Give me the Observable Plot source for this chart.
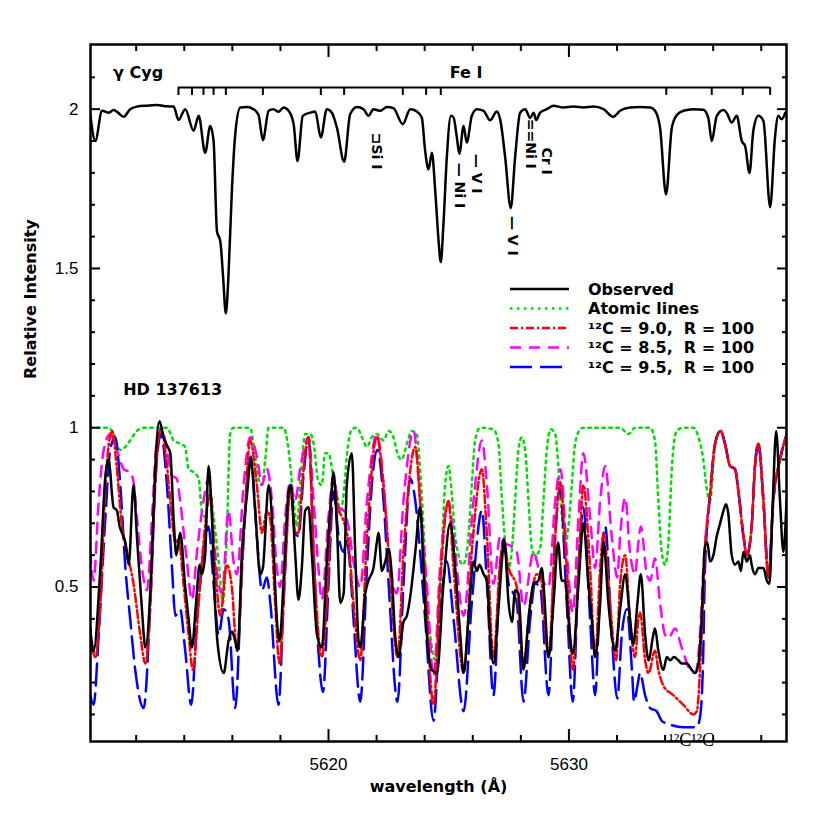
<!DOCTYPE html>
<html><head><meta charset="utf-8">
<script src="https://cdn.jsdelivr.net/npm/d3@7"></script>
<script src="https://cdn.jsdelivr.net/npm/@observablehq/plot@0.6"></script>
<style>body{margin:0;background:#fff} svg text{white-space:pre}</style>
</head><body><div id="chart"></div>
<script>
// ---- data: [wavelength (Å), relative intensity] ----
const gammaCyg = [[5610.09,1.984],[5610.30,1.900],[5610.58,1.995],[5610.85,1.989],[5611.06,1.997],[5611.23,1.990],[5611.48,1.976],[5611.75,2.000],[5612.03,2.008],[5612.45,2.011],[5612.86,2.013],[5613.28,2.009],[5613.56,2.008],[5613.76,1.966],[5614.04,2.000],[5614.39,1.932],[5614.60,1.979],[5614.87,1.863],[5615.08,1.947],[5615.22,1.900],[5615.36,1.617],[5615.50,1.585],[5615.61,1.480],[5615.73,1.359],[5615.84,1.480],[5615.98,1.743],[5616.12,1.921],[5616.33,2.005],[5616.61,2.007],[5616.88,2.000],[5617.09,1.982],[5617.27,1.903],[5617.51,1.995],[5617.71,2.000],[5617.92,1.992],[5618.13,2.005],[5618.34,1.995],[5618.55,1.953],[5618.71,1.837],[5618.93,1.979],[5619.24,1.989],[5619.45,1.993],[5619.68,1.911],[5619.93,2.000],[5620.14,1.989],[5620.35,1.942],[5620.65,1.835],[5620.90,1.984],[5621.18,2.007],[5621.46,2.000],[5621.66,1.979],[5621.87,2.000],[5622.15,1.995],[5622.43,2.007],[5622.70,2.003],[5623.09,1.953],[5623.40,2.000],[5623.67,1.993],[5623.88,1.974],[5624.02,1.869],[5624.16,1.811],[5624.30,1.863],[5624.44,1.743],[5624.58,1.585],[5624.67,1.520],[5624.78,1.638],[5624.92,1.848],[5625.09,1.979],[5625.20,1.974],[5625.34,1.911],[5625.44,1.860],[5625.62,1.947],[5625.75,1.895],[5625.96,1.979],[5626.17,2.000],[5626.45,1.995],[5626.72,1.965],[5627.00,1.993],[5627.14,1.968],[5627.35,1.848],[5627.58,1.690],[5627.76,1.848],[5627.97,1.989],[5628.18,2.000],[5628.39,1.972],[5628.53,1.989],[5628.64,1.966],[5628.80,1.989],[5629.08,2.000],[5629.36,2.011],[5629.77,2.005],[5630.19,2.008],[5630.60,2.005],[5631.02,2.008],[5631.44,2.000],[5631.85,1.976],[5632.13,1.995],[5632.54,2.005],[5632.96,2.007],[5633.38,2.005],[5633.58,1.995],[5633.79,1.942],[5634.04,1.732],[5634.28,1.942],[5634.49,1.982],[5634.76,1.995],[5635.18,2.000],[5635.59,1.998],[5635.80,1.972],[5635.94,1.900],[5636.15,1.979],[5636.43,1.997],[5636.56,1.989],[5636.77,1.958],[5636.98,1.979],[5637.19,1.900],[5637.33,1.884],[5637.51,1.800],[5637.67,1.932],[5637.88,1.979],[5638.09,1.963],[5638.37,1.692],[5638.57,1.911],[5638.71,1.979],[5638.85,1.968],[5639.00,1.989]];

const observed = [[5610.09,0.37],[5610.23,0.30],[5610.51,0.56],[5610.72,0.85],[5610.85,0.90],[5611.06,0.75],[5611.20,0.74],[5611.31,0.69],[5611.41,0.67],[5611.55,0.64],[5611.69,0.57],[5611.89,0.82],[5612.03,0.66],[5612.24,0.43],[5612.38,0.31],[5612.66,0.61],[5612.79,0.87],[5612.97,1.02],[5613.14,0.97],[5613.31,0.94],[5613.42,0.92],[5613.56,0.71],[5613.67,0.60],[5613.83,0.67],[5614.04,0.50],[5614.18,0.40],[5614.32,0.31],[5614.50,0.46],[5614.64,0.57],[5614.73,0.54],[5614.87,0.60],[5615.01,0.88],[5615.15,0.72],[5615.29,0.43],[5615.39,0.32],[5615.64,0.23],[5615.84,0.33],[5615.98,0.36],[5616.12,0.33],[5616.22,0.30],[5616.40,0.61],[5616.61,0.79],[5616.77,0.90],[5616.95,0.74],[5617.16,0.54],[5617.27,0.56],[5617.51,0.82],[5617.69,0.66],[5617.85,0.40],[5617.96,0.33],[5618.16,0.56],[5618.34,0.80],[5618.43,0.82],[5618.61,0.61],[5618.75,0.46],[5618.89,0.56],[5619.03,0.74],[5619.17,0.75],[5619.31,0.60],[5619.52,0.35],[5619.72,0.31],[5619.93,0.58],[5620.10,0.77],[5620.21,0.86],[5620.35,0.69],[5620.49,0.45],[5620.63,0.48],[5620.76,0.82],[5620.97,0.92],[5621.11,0.61],[5621.25,0.33],[5621.32,0.31],[5621.53,0.48],[5621.66,0.52],[5621.87,0.56],[5622.01,0.64],[5622.08,0.67],[5622.22,0.55],[5622.36,0.58],[5622.50,0.62],[5622.63,0.54],[5622.77,0.35],[5622.91,0.28],[5623.12,0.39],[5623.26,0.41],[5623.40,0.47],[5623.61,0.61],[5623.81,0.75],[5623.95,0.56],[5624.09,0.35],[5624.30,0.24],[5624.51,0.23],[5624.78,0.51],[5625.06,0.70],[5625.27,0.56],[5625.48,0.35],[5625.62,0.23],[5625.82,0.40],[5626.03,0.58],[5626.17,0.55],[5626.28,0.57],[5626.45,0.54],[5626.59,0.52],[5626.72,0.35],[5626.86,0.26],[5627.07,0.43],[5627.21,0.58],[5627.31,0.65],[5627.49,0.45],[5627.63,0.39],[5627.76,0.49],[5627.90,0.48],[5628.11,0.24],[5628.32,0.40],[5628.53,0.51],[5628.73,0.52],[5628.87,0.56],[5628.97,0.48],[5629.15,0.28],[5629.36,0.45],[5629.55,0.64],[5629.70,0.52],[5629.84,0.52],[5629.98,0.40],[5630.16,0.29],[5630.40,0.51],[5630.60,0.70],[5630.81,0.51],[5630.95,0.40],[5631.09,0.28],[5631.30,0.45],[5631.44,0.64],[5631.64,0.45],[5631.92,0.30],[5632.13,0.43],[5632.34,0.54],[5632.54,0.40],[5632.68,0.32],[5632.85,0.45],[5632.99,0.54],[5633.17,0.35],[5633.31,0.27],[5633.51,0.35],[5633.58,0.37],[5633.72,0.30],[5633.93,0.24],[5634.07,0.28],[5634.21,0.27],[5634.37,0.28],[5634.55,0.27],[5634.69,0.26],[5634.90,0.26],[5635.11,0.24],[5635.25,0.23],[5635.39,0.26],[5635.52,0.40],[5635.66,0.63],[5635.76,0.64],[5635.87,0.58],[5636.01,0.60],[5636.15,0.66],[5636.29,0.70],[5636.43,0.74],[5636.54,0.76],[5636.63,0.73],[5636.77,0.60],[5636.91,0.57],[5637.05,0.58],[5637.15,0.55],[5637.26,0.61],[5637.40,0.58],[5637.53,0.60],[5637.60,0.57],[5637.74,0.54],[5637.88,0.56],[5638.09,0.56],[5638.23,0.52],[5638.34,0.51],[5638.48,0.77],[5638.62,0.99],[5638.78,0.77],[5638.92,0.61],[5639.05,0.77]];

// region where all synthetic spectra coincide (no C2 lines)
const modelTail = [[5636.08,0.95],[5636.31,0.99],[5636.49,0.95],[5636.70,0.88],[5636.91,0.87],[5637.05,0.80],[5637.26,0.66],[5637.40,0.60],[5637.60,0.69],[5637.74,0.88],[5637.88,0.95],[5638.09,0.77],[5638.30,0.53],[5638.50,0.77],[5638.78,0.90],[5639.06,0.98]];

const atomic = [[5610.09,1.0],[5610.85,1.0],[5611.06,0.98],[5611.34,0.93],[5611.55,0.94],[5611.75,0.96],[5612.03,0.99],[5612.31,1.0],[5613.28,1.0],[5613.56,0.96],[5613.83,0.95],[5614.04,0.94],[5614.18,0.87],[5614.39,0.86],[5614.60,0.84],[5614.73,0.74],[5614.87,0.72],[5615.01,0.77],[5615.08,0.80],[5615.22,0.72],[5615.43,0.58],[5615.61,0.45],[5615.77,0.66],[5615.91,0.98],[5616.05,1.0],[5616.74,1.0],[5616.88,0.95],[5617.09,0.84],[5617.23,0.82],[5617.37,0.90],[5617.51,1.0],[5618.13,1.0],[5618.34,0.93],[5618.55,0.77],[5618.68,0.69],[5618.82,0.82],[5619.03,0.98],[5619.24,0.98],[5619.38,0.95],[5619.58,0.83],[5619.72,0.82],[5619.86,0.92],[5620.00,0.92],[5620.21,0.84],[5620.35,0.79],[5620.49,0.74],[5620.63,0.79],[5620.76,0.91],[5620.97,0.995],[5621.18,1.0],[5621.39,0.97],[5621.60,0.94],[5621.80,0.97],[5622.01,0.98],[5622.29,0.96],[5622.50,0.99],[5622.70,0.97],[5622.91,0.91],[5623.05,0.90],[5623.26,0.95],[5623.47,0.99],[5623.67,0.98],[5623.81,0.87],[5623.95,0.69],[5624.09,0.45],[5624.23,0.35],[5624.44,0.27],[5624.58,0.35],[5624.71,0.61],[5624.85,0.82],[5624.99,0.88],[5625.13,0.79],[5625.27,0.66],[5625.41,0.60],[5625.55,0.57],[5625.68,0.58],[5625.82,0.66],[5625.96,0.82],[5626.10,0.96],[5626.31,1.0],[5626.86,0.995],[5627.07,0.95],[5627.21,0.78],[5627.35,0.64],[5627.49,0.56],[5627.62,0.61],[5627.76,0.77],[5627.90,0.93],[5628.04,0.97],[5628.18,0.93],[5628.32,0.77],[5628.46,0.62],[5628.60,0.60],[5628.80,0.62],[5628.94,0.77],[5629.08,0.93],[5629.25,0.995],[5629.43,0.98],[5629.57,0.87],[5629.71,0.72],[5629.84,0.63],[5629.98,0.69],[5630.12,0.82],[5630.26,0.95],[5630.47,0.995],[5630.60,1.0],[5632.13,1.0],[5632.48,0.98],[5632.75,1.0],[5633.38,1.0],[5633.58,0.96],[5633.72,0.77],[5633.86,0.61],[5634.00,0.57],[5634.14,0.64],[5634.28,0.87],[5634.48,0.99],[5634.76,1.0],[5635.18,1.0],[5635.39,0.97],[5635.59,0.90],[5635.73,0.81],[5635.87,0.77]];

const c90 = [[5610.09,0.35],[5610.30,0.28],[5610.51,0.45],[5610.72,0.82],[5611.00,0.99],[5611.20,0.87],[5611.41,0.69],[5611.62,0.61],[5611.89,0.51],[5612.17,0.35],[5612.38,0.26],[5612.59,0.45],[5612.79,0.82],[5613.03,0.995],[5613.21,0.93],[5613.42,0.77],[5613.63,0.64],[5613.76,0.65],[5613.97,0.51],[5614.18,0.35],[5614.36,0.24],[5614.60,0.45],[5614.80,0.64],[5615.08,0.79],[5615.29,0.56],[5615.50,0.41],[5615.77,0.57],[5615.98,0.50],[5616.19,0.30],[5616.47,0.66],[5616.74,0.96],[5617.02,0.82],[5617.23,0.67],[5617.44,0.74],[5617.58,0.71],[5617.78,0.45],[5617.96,0.26],[5618.20,0.56],[5618.41,0.81],[5618.61,0.67],[5618.75,0.67],[5618.89,0.81],[5619.17,0.97],[5619.38,0.61],[5619.72,0.28],[5620.00,0.56],[5620.18,0.84],[5620.42,0.74],[5620.56,0.72],[5620.83,0.64],[5621.04,0.45],[5621.32,0.27],[5621.60,0.66],[5622.01,0.97],[5622.29,0.82],[5622.50,0.61],[5622.87,0.28],[5623.12,0.61],[5623.61,0.94],[5623.81,0.77],[5624.02,0.51],[5624.37,0.13],[5624.64,0.51],[5624.99,0.77],[5625.20,0.56],[5625.62,0.23],[5625.96,0.61],[5626.38,0.87],[5626.59,0.66],[5626.86,0.28],[5627.14,0.58],[5627.28,0.64],[5627.49,0.56],[5627.83,0.50],[5628.11,0.26],[5628.39,0.45],[5628.66,0.54],[5628.80,0.54],[5629.15,0.28],[5629.43,0.66],[5629.63,0.83],[5629.91,0.56],[5630.16,0.24],[5630.40,0.56],[5630.60,0.82],[5630.88,0.56],[5631.09,0.28],[5631.30,0.56],[5631.44,0.67],[5631.71,0.45],[5631.96,0.27],[5632.13,0.51],[5632.34,0.60],[5632.54,0.40],[5632.75,0.28],[5632.89,0.40],[5632.96,0.42],[5633.17,0.27],[5633.31,0.23],[5633.58,0.30],[5633.72,0.24],[5633.93,0.19],[5634.35,0.16],[5634.76,0.13],[5635.18,0.10],[5635.32,0.11],[5635.52,0.35],[5635.66,0.61],[5635.87,0.79]];

const c85 = [[5610.09,0.61],[5610.23,0.52],[5610.44,0.77],[5610.65,0.93],[5610.92,0.98],[5611.20,0.93],[5611.48,0.87],[5611.75,0.86],[5611.89,0.83],[5612.03,0.72],[5612.24,0.56],[5612.45,0.49],[5612.66,0.72],[5612.86,0.96],[5613.07,0.995],[5613.28,0.93],[5613.49,0.85],[5613.69,0.84],[5613.83,0.77],[5614.11,0.58],[5614.32,0.46],[5614.53,0.61],[5614.80,0.77],[5615.01,0.84],[5615.22,0.66],[5615.43,0.51],[5615.57,0.48],[5615.84,0.74],[5616.05,0.58],[5616.19,0.54],[5616.47,0.82],[5616.74,0.97],[5617.02,0.91],[5617.23,0.82],[5617.44,0.87],[5617.65,0.77],[5617.85,0.56],[5617.99,0.50],[5618.20,0.72],[5618.41,0.83],[5618.61,0.77],[5618.82,0.87],[5619.17,0.97],[5619.38,0.77],[5619.58,0.56],[5619.72,0.46],[5620.00,0.72],[5620.21,0.85],[5620.42,0.75],[5620.63,0.74],[5620.83,0.69],[5621.04,0.58],[5621.32,0.50],[5621.60,0.77],[5622.01,0.98],[5622.29,0.82],[5622.50,0.61],[5622.84,0.48],[5623.12,0.77],[5623.54,0.99],[5623.81,0.77],[5624.09,0.51],[5624.37,0.22],[5624.64,0.56],[5624.99,0.77],[5625.20,0.66],[5625.62,0.41],[5626.03,0.77],[5626.38,0.96],[5626.59,0.82],[5626.86,0.51],[5627.14,0.66],[5627.28,0.64],[5627.55,0.63],[5627.83,0.61],[5628.11,0.44],[5628.53,0.61],[5628.80,0.54],[5629.15,0.50],[5629.43,0.77],[5629.65,0.87],[5629.91,0.61],[5630.16,0.42],[5630.40,0.72],[5630.60,0.92],[5630.88,0.72],[5631.09,0.56],[5631.30,0.77],[5631.51,0.88],[5631.78,0.66],[5632.01,0.53],[5632.13,0.66],[5632.34,0.78],[5632.54,0.61],[5632.75,0.54],[5632.89,0.64],[5632.99,0.69],[5633.24,0.54],[5633.38,0.52],[5633.58,0.59],[5633.79,0.45],[5634.00,0.35],[5634.14,0.34],[5634.42,0.37],[5634.69,0.31],[5635.04,0.24],[5635.25,0.23],[5635.45,0.35],[5635.59,0.56],[5635.87,0.79]];

const c95 = [[5610.09,0.16],[5610.23,0.13],[5610.44,0.35],[5610.72,0.72],[5610.92,0.93],[5611.13,0.97],[5611.34,0.82],[5611.55,0.56],[5611.75,0.40],[5611.96,0.24],[5612.31,0.12],[5612.59,0.45],[5612.79,0.82],[5613.03,0.98],[5613.28,0.82],[5613.49,0.56],[5613.63,0.41],[5613.83,0.43],[5614.04,0.30],[5614.29,0.13],[5614.53,0.40],[5614.80,0.61],[5615.01,0.69],[5615.22,0.51],[5615.43,0.35],[5615.64,0.43],[5615.84,0.40],[5616.12,0.12],[5616.40,0.56],[5616.77,0.91],[5617.02,0.66],[5617.23,0.49],[5617.44,0.53],[5617.58,0.45],[5617.92,0.13],[5618.13,0.45],[5618.41,0.82],[5618.61,0.67],[5618.75,0.66],[5618.96,0.85],[5619.17,0.97],[5619.38,0.61],[5619.58,0.30],[5619.77,0.17],[5620.00,0.51],[5620.21,0.80],[5620.42,0.66],[5620.63,0.61],[5620.76,0.65],[5620.90,0.56],[5621.04,0.40],[5621.32,0.14],[5621.60,0.56],[5621.80,0.82],[5622.04,0.93],[5622.29,0.77],[5622.50,0.51],[5622.87,0.14],[5623.12,0.51],[5623.40,0.84],[5623.61,0.77],[5623.81,0.61],[5624.02,0.40],[5624.37,0.08],[5624.64,0.40],[5624.92,0.58],[5625.20,0.40],[5625.62,0.11],[5625.96,0.45],[5626.38,0.74],[5626.59,0.51],[5626.86,0.16],[5627.14,0.56],[5627.28,0.65],[5627.49,0.51],[5627.62,0.49],[5627.83,0.45],[5628.11,0.14],[5628.39,0.40],[5628.60,0.51],[5628.80,0.50],[5629.15,0.16],[5629.43,0.66],[5629.63,0.81],[5629.91,0.45],[5630.16,0.14],[5630.40,0.56],[5630.60,0.75],[5630.88,0.40],[5631.09,0.16],[5631.30,0.51],[5631.51,0.69],[5631.78,0.35],[5632.01,0.15],[5632.20,0.35],[5632.41,0.43],[5632.62,0.24],[5632.71,0.14],[5632.85,0.19],[5632.96,0.23],[5633.17,0.16],[5633.38,0.12],[5633.65,0.11],[5633.86,0.08],[5634.14,0.07],[5634.76,0.06],[5635.32,0.06],[5635.45,0.09],[5635.57,0.24],[5635.66,0.56],[5635.87,0.79]];

// Fe I line marks (wavelengths) and other line identifications
const feLines = [5613.76,5614.32,5614.80,5615.22,5615.73,5617.27,5619.68,5620.65,5623.09,5624.06,5624.67,5634.05,5635.94,5637.23,5638.37];
const feBarLevel = 2.068, feTickLevel = 2.043;
const lineIds = [
  {w: 5621.98, v: 1.926, t: "⊐Si I"},
  {w: 5625.43, v: 1.832, t: "— Ni I"},
  {w: 5626.14, v: 1.860, t: "— V I"},
  {w: 5627.64, v: 1.665, t: "— V I"},
  {w: 5628.39, v: 1.970, t: "==Ni I"},
  {w: 5629.05, v: 1.880, t: "Cr I"}
];
const leftLabels = [
  {w: 5611.04, v: 2.115, t: "γ Cyg"},
  {w: 5611.46, v: 1.120, t: "HD 137613"}
];
const centerLabels = [{w: 5625.72, v: 2.115, t: "Fe I"}];
const bandLabel = {w: 5635.09, t: "¹²C¹²C"};

const xMajor = [5620, 5630];
const xMinor = [5612,5614,5616,5618,5622,5624,5626,5628,5632,5634,5636,5638];
const yMajor = [0.5, 1, 1.5, 2];
const yMinor = [0.1,0.2,0.3,0.4,0.6,0.7,0.8,0.9,1.1,1.2,1.3,1.4,1.6,1.7,1.8,1.9,2.1];
const xDomain = [5610.1, 5639.05], yDomain = [0.015, 2.203];

const series = [
  {label: "Observed", data: observed, stroke: "#000000", dash: null},
  {label: "Atomic lines", data: atomic.concat(modelTail), stroke: "#00dd00", dash: "2.5,4.5"},
  {label: "¹²C = 9.0,  R = 100", data: c90.concat(modelTail), stroke: "#ff0000", dash: "8,3,2,3"},
  {label: "¹²C = 8.5,  R = 100", data: c85.concat(modelTail), stroke: "#ff00ff", dash: "11,8"},
  {label: "¹²C = 9.5,  R = 100", data: c95.concat(modelTail), stroke: "#0000ff", dash: "22,8"}
];
const drawOrder = [1, 3, 4, 2, 0];

const obj = a => a.map(([w, v]) => ({w, v}));
const bold = {fontWeight: "bold", fontFamily: "DejaVu Sans"};
const tickOpts = {stroke: "black", strokeWidth: 2, tickFormat: () => "", label: null};

const marks = [];
for (const i of drawOrder) {
  const s = series[i];
  marks.push(Plot.line(obj(s.data), {x: "w", y: "v", stroke: s.stroke, strokeWidth: 2.5,
    strokeDasharray: s.dash, curve: "monotone-x", clip: true, strokeLinejoin: "round"}));
}
marks.push(Plot.line(obj(gammaCyg), {x: "w", y: "v", stroke: "black", strokeWidth: 2.5, curve: "monotone-x", clip: true}));
marks.push(Plot.ruleY([feBarLevel], {x1: feLines[0], x2: feLines[feLines.length - 1], stroke: "black", strokeWidth: 2}));
marks.push(Plot.ruleX(feLines, {x: d => d, y1: feBarLevel, y2: feTickLevel, stroke: "black", strokeWidth: 2}));
marks.push(Plot.text(lineIds, {x: "w", y: "v", text: "t", rotate: 90, textAnchor: "start", lineAnchor: "middle", fontSize: 14, ...bold}));
marks.push(Plot.text(leftLabels, {x: "w", y: "v", text: "t", textAnchor: "start", fontSize: 16, ...bold}));
marks.push(Plot.text(centerLabels, {x: "w", y: "v", text: "t", textAnchor: "middle", fontSize: 16, ...bold}));
marks.push(Plot.text([bandLabel], {x: "w", y: yDomain[0], text: "t", lineAnchor: "bottom", dy: 4, fontSize: 18, fontFamily: "Liberation Serif"}));
// axes: inward ticks on all four sides
marks.push(Plot.axisX({ticks: xMajor, anchor: "bottom", tickSize: 12, dy: -12, ...tickOpts}));
marks.push(Plot.axisX({ticks: xMinor, anchor: "bottom", tickSize: 6, dy: -6, ...tickOpts}));
marks.push(Plot.axisX({ticks: xMajor, anchor: "top", tickSize: 12, dy: 12, ...tickOpts}));
marks.push(Plot.axisX({ticks: xMinor, anchor: "top", tickSize: 6, dy: 6, ...tickOpts}));
marks.push(Plot.axisY({ticks: yMajor, anchor: "left", tickSize: 10, dx: 10, ...tickOpts}));
marks.push(Plot.axisY({ticks: yMinor, anchor: "left", tickSize: 5, dx: 5, ...tickOpts}));
marks.push(Plot.axisY({ticks: yMajor, anchor: "right", tickSize: 10, dx: -10, ...tickOpts}));
marks.push(Plot.axisY({ticks: yMinor, anchor: "right", tickSize: 5, dx: -5, ...tickOpts}));
marks.push(Plot.axisX({ticks: xMajor, anchor: "bottom", tickSize: 0, tickPadding: 16, fontSize: 17, fontFamily: "Liberation Sans", label: null, tickFormat: d => String(d)}));
marks.push(Plot.axisY({ticks: yMajor, anchor: "left", tickSize: 0, tickPadding: 12, fontSize: 17, fontFamily: "Liberation Sans", label: null, tickFormat: d => String(d)}));
marks.push(Plot.frame({stroke: "black", strokeWidth: 2.5}));
marks.push(Plot.text(["wavelength (Å)"], {frameAnchor: "bottom", text: d => d, dy: 50, fontSize: 16, ...bold}));
marks.push(Plot.text(["Relative Intensity"], {frameAnchor: "left", text: d => d, rotate: -90, dx: -60, dy: -14, fontSize: 16, ...bold}));

const plot = Plot.plot({
  width: 830, height: 830,
  marginLeft: 90, marginRight: 44, marginTop: 44, marginBottom: 89,
  x: {domain: xDomain},
  y: {domain: yDomain},
  style: {background: "white", color: "black"},
  marks
});

// legend (inside the plot area, upper right of the lower panel)
const svg = d3.select(plot);
const lg = svg.append("g").attr("font-family", "DejaVu Sans").attr("font-weight", "bold")
  .attr("font-size", 16).attr("text-anchor", "start");
series.forEach((s, i) => {
  const y = 289 + i * 19.5;
  lg.append("line").attr("x1", 510).attr("x2", 569).attr("y1", y).attr("y2", y)
    .attr("stroke", s.stroke).attr("stroke-width", 2.5).attr("stroke-dasharray", s.dash);
  lg.append("text").attr("x", 588).attr("y", y).attr("dy", "0.35em")
    .attr("text-anchor", "start").style("white-space", "pre").text(s.label);
});

document.getElementById("chart").append(plot);
</script></body></html>
